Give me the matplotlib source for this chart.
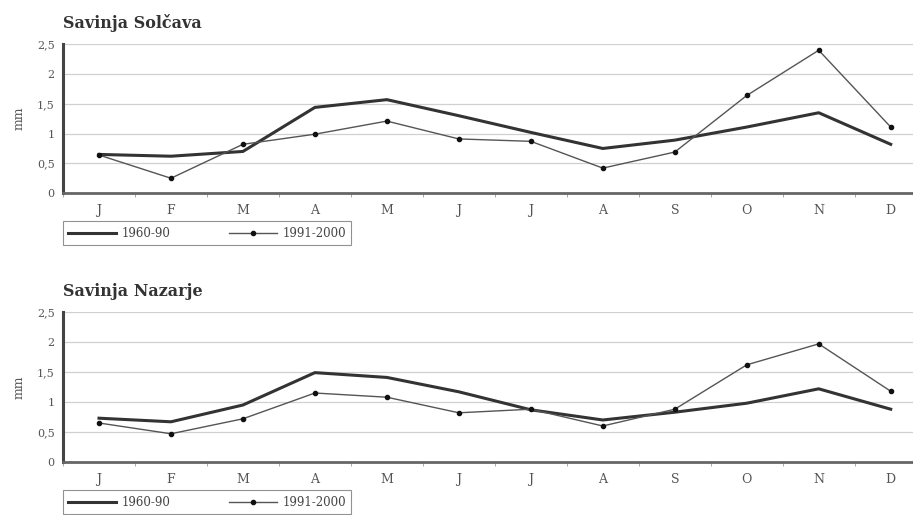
import numpy as np
import matplotlib.pyplot as plt
from matplotlib.ticker import FuncFormatter

plt.rcParams['font.family'] = ['DejaVu Serif']

months = ["J", "F", "M", "A", "M", "J", "J", "A", "S", "O", "N", "D"]
series_names = ["1960-90", "1991-2000"]

# Savinja Solcava
solcava_6090 = [0.65, 0.62, 0.70, 1.44, 1.57, 1.30, 1.02, 0.75, 0.89, 1.11, 1.35, 0.82]
solcava_9100 = [0.64, 0.25, 0.82, 0.99, 1.21, 0.91, 0.87, 0.42, 0.69, 1.64, 2.40, 1.11]

# Savinja Nazarje
nazarje_6090 = [0.73, 0.67, 0.95, 1.49, 1.41, 1.17, 0.87, 0.70, 0.83, 0.98, 1.22, 0.88]
nazarje_9100 = [0.65, 0.47, 0.72, 1.15, 1.08, 0.82, 0.88, 0.60, 0.88, 1.62, 1.97, 1.18]

titles = ["Savinja Solčava", "Savinja Nazarje"]
data = [(solcava_6090, solcava_9100), (nazarje_6090, nazarje_9100)]

fig = plt.figure(figsize=(9.13, 5.15), dpi=100)
# axes positions (left, bottom, width, height), right edge runs off the figure like the scan
positions = [(0.069, 0.625, 0.946, 0.289), (0.069, 0.103, 0.946, 0.291)]

x = np.arange(len(months))
comma = FuncFormatter(lambda v, p: ("%g" % v).replace(".", ","))

for pos, title, (a, b) in zip(positions, titles, data):
    ax = fig.add_axes(pos)
    ax.plot(x, a, color="#333333", lw=2.2, label=series_names[0])
    ax.plot(x, b, color="#555555", lw=1.0, marker="o", ms=3.0,
            mfc="#111111", mec="#111111", label=series_names[1])
    ax.set_xlim(-0.5, 11.5)
    ax.set_ylim(0, 2.5)
    ax.set_yticks([0, 0.5, 1, 1.5, 2, 2.5])
    ax.yaxis.set_major_formatter(comma)
    ax.set_xticks(x)
    ax.set_xticklabels(months)
    ax.set_xticks(np.arange(-0.5, 12, 1), minor=True)
    ax.tick_params(axis="x", which="major", length=0, pad=8, labelsize=9, colors="#555555")
    ax.tick_params(axis="x", which="minor", length=3, color="#999999")
    ax.tick_params(axis="y", length=0, pad=6, labelsize=8, colors="#555555")
    ax.grid(axis="y", color="#d0d0d0", lw=0.9)
    ax.set_axisbelow(True)
    for s in ["top", "right"]:
        ax.spines[s].set_visible(False)
    ax.spines["left"].set_linewidth(2.2)
    ax.spines["left"].set_color("#444444")
    ax.spines["bottom"].set_linewidth(2.0)
    ax.spines["bottom"].set_color("#666666")
    ax.set_ylabel("mm", fontsize=9, color="#555555", labelpad=8)
    ax.text(0.0, 1.08, title, transform=ax.transAxes, fontsize=11.5,
            fontweight="bold", color="#333333", ha="left", va="bottom")
    leg = ax.legend(loc="upper left", bbox_to_anchor=(0.0, -0.19, 0.334, 0.0),
                    mode="expand", ncol=2, frameon=True, fancybox=False,
                    fontsize=8.5, handlelength=4.0, borderpad=0.45,
                    borderaxespad=0, handletextpad=0.5)
    leg.get_frame().set_edgecolor("#777777")
    leg.get_frame().set_linewidth(0.8)
    for t in leg.get_texts():
        t.set_color("#444444")

fig.savefig("out.png", dpi=100)
